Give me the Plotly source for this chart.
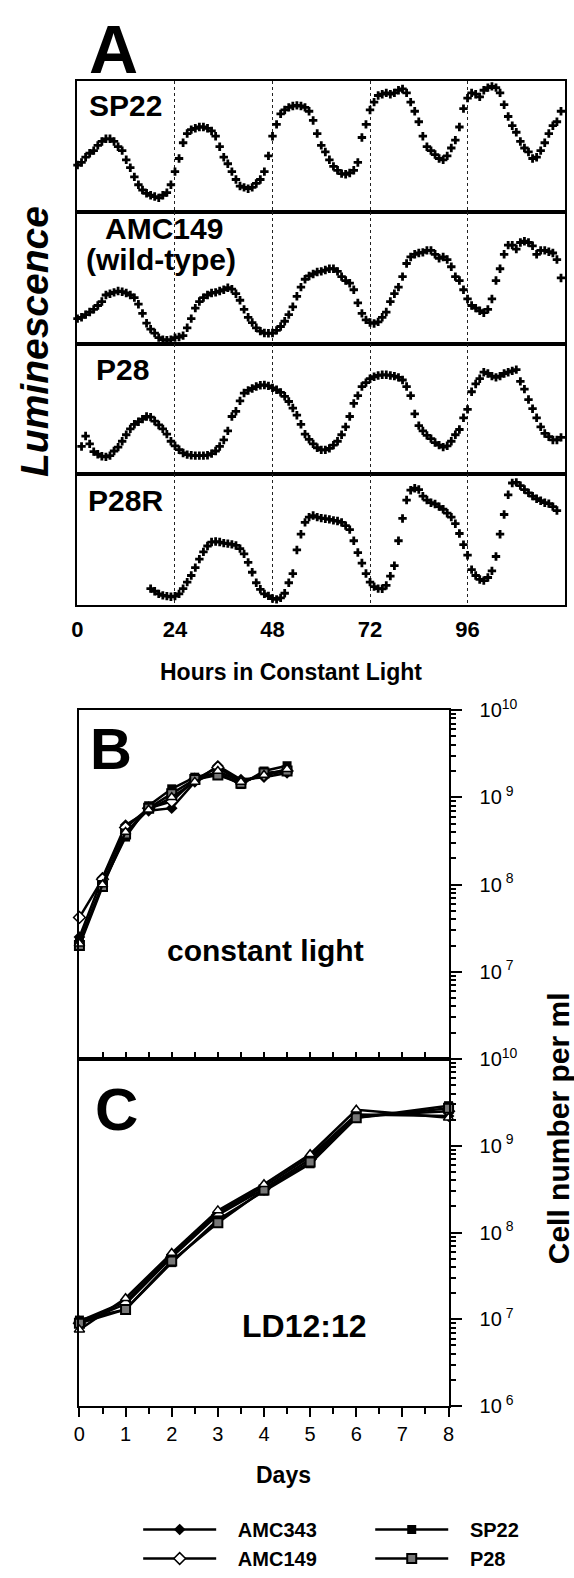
import plotly.graph_objects as go

# ---------------- data: panel A (luminescence, row-relative units 0-100) ----------------
SP22_HOURS = list(range(0, 120))
SP22_LUM = [36, 38, 42, 45, 47, 51, 54, 56, 56, 54,
            50, 47, 40, 34, 27, 21, 17, 14.5, 13, 12,
            11, 13, 15, 21, 31, 41, 53, 60, 63, 64,
            65, 65, 64, 62, 58, 50, 42, 37, 31, 25,
            20, 19, 18, 19, 22, 25, 31, 43, 58, 67,
            75, 78, 80, 81, 81.5, 81, 80, 77, 70, 60,
            51, 46, 40, 35, 32, 29.5, 29, 30, 32, 38,
            57, 67, 78, 84, 89, 90, 91, 90, 91, 93,
            94, 91, 84, 77, 69, 58, 50, 47, 44, 41,
            40, 43, 49, 55, 65, 79, 87, 91, 90, 88,
            93, 95, 96, 95, 91, 82, 73, 66, 61, 54,
            49, 46, 41, 42, 47, 53, 60, 66, 69, 77]

AMC149_HOURS = list(range(0, 120))
AMC149_LUM = [19, 20, 22, 24, 26, 29, 32, 37, 38, 39,
              40, 39.5, 38.5, 37, 35, 30, 23, 15.5, 11, 8,
              4.5, 3, 2.5, 3, 4.5, 5, 6, 12, 19, 27,
              32, 35, 37, 38.5, 39, 40, 41, 42.5, 41.5, 38,
              33, 26, 20, 16, 12, 9.5, 8, 7.8, 8, 10,
              13, 17, 22, 28, 36, 43, 49, 51.5, 53, 54.5,
              55, 56, 57, 57, 55, 51, 48, 46, 41, 31,
              23, 18, 16, 15.3, 16.5, 20, 24, 32, 38, 43,
              51, 61, 66, 68, 69, 69.5, 71, 71, 68, 65,
              66, 64, 58.5, 51, 48, 41, 34, 29, 27, 25,
              23.5, 26, 34, 48, 57, 68, 75, 75, 72, 77,
              78, 77, 74.5, 68, 71, 71, 70, 69, 64, 50]

P28_HOURS = list(range(1, 120))
P28_LUM = [21, 29, 23, 17, 15, 13.5, 13, 14, 17.5,
           20.5, 25, 30, 34.5, 38, 40, 42, 44, 43.5, 40.5,
           37.5, 34.5, 30.5, 25, 21.5, 18.5, 16, 14.7, 14.2, 14,
           14, 14, 14.3, 15.5, 17.5, 21, 26, 33, 44, 48,
           56, 62, 64, 65.5, 67, 68, 68.2, 67.5, 66, 64.5,
           62.5, 59.5, 55.5, 50.5, 45, 38, 30.5, 26.5, 23, 20,
           18.4, 18.4, 19.5, 22, 25, 30, 36, 44, 54, 60,
           67, 70, 73, 74.5, 75.5, 76, 76, 75.5, 75, 74,
           72, 67, 60, 46, 37, 33, 29.5, 27, 24, 22,
           20.5, 21.5, 25, 30, 34, 43, 49.5, 63, 69, 73,
           78, 77, 75, 74, 75, 77, 78, 79, 80, 71,
           65, 57, 50, 43, 36, 31, 28.5, 26, 26, 28]

P28R_HOURS = list(range(18, 119))
P28R_LUM = [12.5, 10.5, 8.5, 7.4, 6.8, 6.3, 6.8, 8.5, 12.5, 17.5,
            22.5, 28.5, 35, 40.5, 45, 48, 48.4, 48, 47.2, 46.8,
            46.2, 45.4, 43, 39, 32.5, 25, 17, 12, 8.5, 7,
            5, 4.3, 5.5, 9, 17, 24, 42, 54, 63, 67,
            68.2, 67, 66.2, 65.8, 65.3, 64.5, 64, 63, 60.5, 57.5,
            49, 40, 32, 24, 17.5, 14, 12.5, 12.4, 15, 22,
            30, 49, 66, 80, 87.5, 89, 88, 83, 80, 78,
            77, 75, 73, 70, 67, 62, 54.5, 46, 38, 27,
            22.5, 19.5, 18.6, 21, 26, 37, 54, 69, 84, 93,
            93.5, 91, 88, 85.5, 83, 81, 79.5, 78, 77.3, 75,
            72]

A_TICKS = [0, 24, 48, 72, 96]

# ---------------- data: panels B and C (cells per ml) ----------------
B_DAYS = [0, 0.5, 1, 1.5, 2, 2.5, 3, 3.5, 4, 4.5]
B_AMC343 = [2.5e7, 1.2e8, 4.8e8, 7.0e8, 7.5e8, 1.5e9, 2.3e9, 1.6e9, 1.7e9, 1.9e9]
B_AMC149 = [4.2e7, 1.15e8, 4.5e8, 7.5e8, 9.0e8, 1.6e9, 2.2e9, 1.5e9, 1.8e9, 2.0e9]
B_SP22 = [2.2e7, 1.0e8, 3.5e8, 8.0e8, 1.25e9, 1.7e9, 1.9e9, 1.4e9, 2.0e9, 2.3e9]
B_P28 = [2.0e7, 9.5e7, 3.8e8, 7.5e8, 1.1e9, 1.6e9, 1.8e9, 1.45e9, 1.9e9, 2.0e9]
B_P28R = [2.1e7, 1.0e8, 4.0e8, 7.2e8, 1.0e9, 1.5e9, 2.0e9, 1.5e9, 1.8e9, 2.1e9]

C_DAYS = [0, 1, 2, 3, 4, 5, 6, 8]
C_AMC343 = [9.5e6, 1.6e7, 5.5e7, 1.7e8, 3.4e8, 7.5e8, 2.3e9, 2.2e9]
C_AMC149 = [9.0e6, 1.5e7, 5.2e7, 1.6e8, 3.2e8, 7.0e8, 2.2e9, 2.5e9]
C_SP22 = [9.8e6, 1.3e7, 4.5e7, 1.4e8, 3.0e8, 6.2e8, 2.1e9, 2.9e9]
C_P28 = [9.0e6, 1.3e7, 4.7e7, 1.3e8, 3.1e8, 6.5e8, 2.1e9, 2.7e9]
C_P28R = [7.6e6, 1.75e7, 5.8e7, 1.8e8, 3.6e8, 8.0e8, 2.6e9, 2.1e9]

LOG_TICKS_B = [1e7, 1e8, 1e9, 1e10]
LOG_TEXT_B = ["10<sup> 7</sup>", "10<sup> 8</sup>", "10<sup> 9</sup>", "10<sup>10</sup>"]
LOG_TICKS_C = [1e6, 1e7, 1e8, 1e9, 1e10]
LOG_TEXT_C = ["10<sup> 6</sup>", "10<sup> 7</sup>", "10<sup> 8</sup>", "10<sup> 9</sup>", "10<sup>10</sup>"]
LOG_MINOR = [k * 10 ** e for e in range(6, 10) for k in range(2, 10)]
DAY_TICKS = list(range(0, 9))
HALF_DAYS = [d + 0.5 for d in range(0, 8)]

# ---------------- layout helpers ----------------
W, H = 574, 1578
FONT = "Liberation Sans, Arial, Helvetica, sans-serif"
PAD = "\u00a0\u00a0\u00a0"


def fx(p):
    return p / W


def fy(p):
    return 1 - p / H


fig = go.Figure()

rows = [("SP22", SP22_HOURS, SP22_LUM),
        ("AMC149", AMC149_HOURS, AMC149_LUM),
        ("P28", P28_HOURS, P28_LUM),
        ("P28R", P28R_HOURS, P28R_LUM)]
row_edges = [69, 204, 339, 473, 608]
B_TOP, BC_DIV, C_BOT = 716, 1075, 1432

for i, (nm, hrs, vals) in enumerate(rows, start=1):
    fig.add_trace(go.Scatter(
        x=hrs, y=vals, mode="markers", name=nm, showlegend=False,
        marker=dict(symbol="cross", size=7, color="black", line=dict(width=0)),
        xaxis="x" if i == 1 else f"x{i}", yaxis="y" if i == 1 else f"y{i}",
        cliponaxis=False))

series_style = [
    ("AMC343", B_AMC343, C_AMC343, dict(symbol="diamond", size=9, color="black"), "legend"),
    ("AMC149", B_AMC149, C_AMC149, dict(symbol="diamond", size=9, color="white",
                                         line=dict(color="black", width=1.5)), "legend"),
    ("SP22", B_SP22, C_SP22, dict(symbol="square", size=9, color="black"), "legend2"),
    ("P28", B_P28, C_P28, dict(symbol="square", size=9, color="#777777",
                               line=dict(color="black", width=2)), "legend2"),
    ("P28R", B_P28R, C_P28R, dict(symbol="triangle-up", size=9, color="white",
                                  line=dict(color="black", width=1.5)), None),
]

for nm, bv, cv, mk, lg in series_style:
    fig.add_trace(go.Scatter(
        x=B_DAYS, y=bv, mode="lines+markers", name=PAD + nm,
        line=dict(color="black", width=2.5), marker=mk,
        xaxis="x5", yaxis="y5", showlegend=lg is not None,
        legend=lg if lg else "legend", cliponaxis=False))
    fig.add_trace(go.Scatter(
        x=C_DAYS, y=cv, mode="lines+markers", name=nm,
        line=dict(color="black", width=2.5), marker=mk,
        xaxis="x6", yaxis="y6", showlegend=False, cliponaxis=False))

layout = dict(
    width=W, height=H, margin=dict(l=0, r=0, t=0, b=0),
    paper_bgcolor="white", plot_bgcolor="white",
    font=dict(family=FONT, color="black"),
)

for i in range(1, 5):
    top, bot = row_edges[i - 1], row_edges[i]
    xk = "xaxis" if i == 1 else f"xaxis{i}"
    yk = "yaxis" if i == 1 else f"yaxis{i}"
    layout[xk] = dict(
        domain=[fx(73), fx(571)], range=[0, 120], anchor="y" if i == 1 else f"y{i}",
        tickvals=A_TICKS, showgrid=True, gridcolor="#222222", griddash="dot", gridwidth=1,
        showline=True, mirror=True, linecolor="black", linewidth=2, ticks="",
        showticklabels=(i == 4), zeroline=False,
        tickfont=dict(family=FONT, size=22, color="black", weight="bold"),
        ticklabelstandoff=4)
    if i > 1:
        layout[xk]["matches"] = "x"
    layout[yk] = dict(
        domain=[fy(bot), fy(top)], range=[0, 100], anchor="x" if i == 1 else f"x{i}",
        showgrid=False, showticklabels=False, ticks="", zeroline=False,
        showline=True, mirror=True, linecolor="black", linewidth=2)

common_log = dict(type="log", range=[6, 10], side="right", showgrid=False, zeroline=False,
                  showline=True, mirror=True, linecolor="black", linewidth=2,
                  ticks="outside", ticklen=11, tickwidth=2, tickcolor="black",
                  tickfont=dict(family=FONT, size=20, color="black"),
                  minor=dict(tickvals=LOG_MINOR, ticks="outside", ticklen=5, tickwidth=1.5,
                             tickcolor="black", showgrid=False),
                  ticklabelstandoff=14)

layout["xaxis5"] = dict(domain=[fx(75), fx(452)], range=[0, 8], anchor="y5",
                        showgrid=False, zeroline=False, showline=True, mirror=True,
                        linecolor="black", linewidth=2, ticks="inside", dtick=0.5, tick0=0,
                        ticklen=7, tickwidth=2, tickcolor="black", showticklabels=False)
layout["yaxis5"] = dict(common_log, domain=[fy(BC_DIV), fy(B_TOP)], anchor="x5",
                        tickvals=LOG_TICKS_B, ticktext=LOG_TEXT_B)
layout["xaxis6"] = dict(domain=[fx(75), fx(452)], range=[0, 8], anchor="y6",
                        showgrid=False, zeroline=False, showline=True, mirror=True,
                        linecolor="black", linewidth=2, ticks="outside", tickvals=DAY_TICKS,
                        ticklen=9, tickwidth=2, tickcolor="black",
                        tickfont=dict(family=FONT, size=20, color="black"),
                        minor=dict(tickvals=HALF_DAYS, ticks="outside", ticklen=6, tickwidth=2,
                                   tickcolor="black", showgrid=False))
layout["yaxis6"] = dict(common_log, domain=[fy(C_BOT), fy(BC_DIV)], anchor="x6",
                        tickvals=LOG_TICKS_C, ticktext=LOG_TEXT_C)

leg_common = dict(xanchor="left", yanchor="top", bgcolor="rgba(0,0,0,0)", borderwidth=0,
                  font=dict(family=FONT, size=20, color="black", weight="bold"),
                  itemwidth=73, tracegroupgap=0, orientation="v")
layout["legend"] = dict(leg_common, x=fx(135), y=fy(1539))
layout["legend2"] = dict(leg_common, x=fx(372), y=fy(1539))

fig.update_layout(**layout)


def note(text, x, y, size, angle=0):
    fig.add_annotation(text=text, x=fx(x), y=fy(y), xref="paper", yref="paper",
                       showarrow=False, xanchor="center", yanchor="middle", textangle=angle,
                       font=dict(family=FONT, size=size, color="black"))


note("<b>A</b>", 110, 36, 68)
note("<b>SP22</b>", 122, 94, 30)
note("<b>AMC149</b>", 161, 221, 30)
note("<b>(wild-type)</b>", 158, 253, 30)
note("<b>P28</b>", 119, 366, 30)
note("<b>P28R</b>", 122, 500, 30)
note("<b><i>Luminescence</i></b>", 29, 337, 39, -90)
note("<b>Hours in Constant Light</b>", 291, 677, 23)
note("<b>B</b>", 107, 756, 58)
note("<b>constant light</b>", 265, 963, 30)
note("<b>C</b>", 113, 1127, 60)
note("<b>LD12:12</b>", 305, 1350, 32)
note("<b>Days</b>", 283, 1503, 23)
note("<b>Cell number per ml</b>", 564, 1146, 30, -90)

fig.write_html("out.html", config={"displayModeBar": False},
               post_script="document.body.style.margin='0';")
